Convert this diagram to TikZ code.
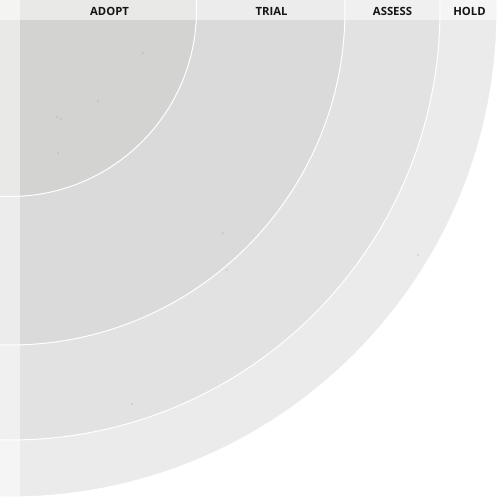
\documentclass[tikz,border=0pt]{standalone}
\usepackage{fontspec}
\setmainfont{Open Sans}
\usepackage{xcolor}
\usepackage{tikz}
\usetikzlibrary{positioning}

\definecolor{adoptfill}{HTML}{D3D3D2}
\definecolor{trialfill}{HTML}{DADADA}
\definecolor{assessfill}{HTML}{E2E2E2}
\definecolor{holdfill}{HTML}{EBEBEB}
\definecolor{labeltext}{HTML}{151515}
\definecolor{blipgray}{HTML}{9A9A9A}
\definecolor{blippink}{HTML}{C98A96}

\begin{document}
\begin{tikzpicture}[x=1pt, y=-1pt,
      ring/.style={draw=white, line width=1pt},
      band/.style={fill=white, fill opacity=0.5},
      ringlabel/.style={font=\bfseries\fontsize{11.3}{13}\selectfont, text=labeltext, inner sep=0pt}]

      \useasboundingbox (0,0) rectangle (500,500);
      \clip (0,0) rectangle (500,500);

      % Rings, outer to inner
      \coordinate (centre) at (10,10);
      \fill[holdfill, ring] (centre) circle[radius=487pt];
      \fill[assessfill, ring] (centre) circle[radius=430pt];
      \fill[trialfill, ring] (centre) circle[radius=335pt];
      \fill[adoptfill, ring] (centre) circle[radius=186.5pt];

      % Blips
      \foreach \bx/\by/\bc in {143/53/blipgray, 98/101/blipgray, 57/117/blipgray, 61/119/blipgray,
          58/153/blippink, 223/233/blipgray, 227/270/blippink, 418/255/blipgray, 132/404/blippink}
        \fill[\bc] (\bx,\by) circle[radius=0.7pt];

      % Header and side bands
      \fill[band] (0,0) rectangle (500,20);
      \fill[band] (0,0) rectangle (20,500);

      % Ring labels
      \node[ringlabel] (adopt) at (109.5,11.3) {ADOPT};
      \node[ringlabel] (trial) at (271.5,11.3) {TRIAL};
      \node[ringlabel] (assess) at (392.5,11.3) {ASSESS};
      \node[ringlabel] (hold) at (469.5,11.3) {HOLD};
    \end{tikzpicture}
\end{document}
